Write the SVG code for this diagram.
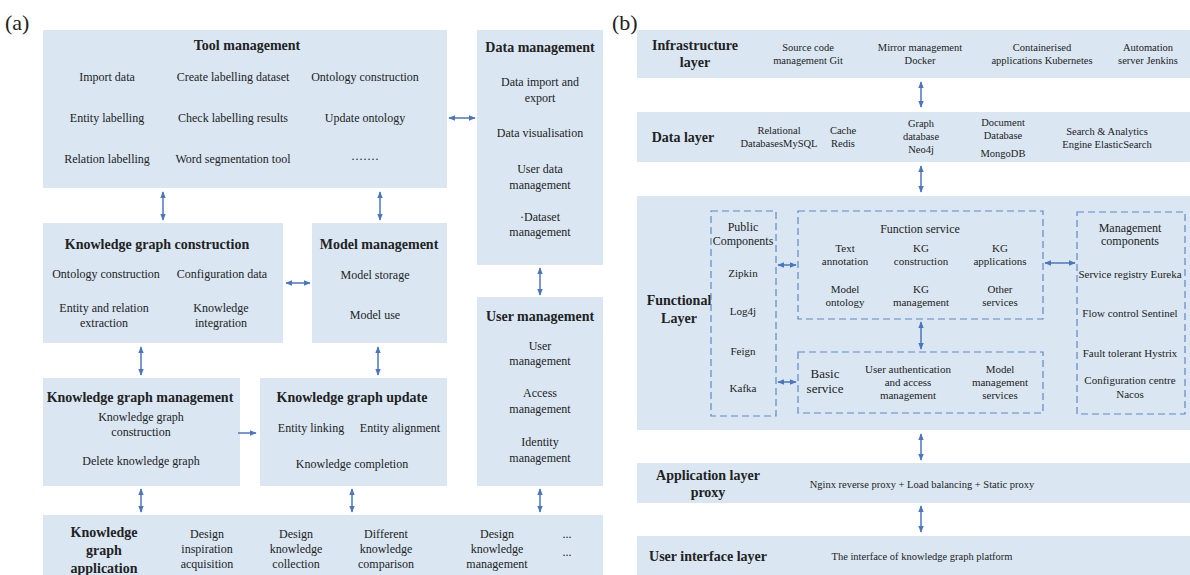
<svg xmlns="http://www.w3.org/2000/svg" width="1190" height="575" viewBox="0 0 1190 575">
<style>
.box{fill:#dae7f3;stroke:none}
.dash{fill:none;stroke:#5f88c8;stroke-width:1.2;stroke-dasharray:7,4}
text{font-family:"Liberation Serif","Times New Roman",serif;fill:#222;text-anchor:middle}
.t{font-size:14px;font-weight:bold}
.i{font-size:12px}
.s{font-size:10.5px}
.m{font-size:11px}
.rb{font-size:14px;font-weight:bold}
.lab{font-size:22px;text-anchor:start}
.ar{stroke:#4a76c0;stroke-width:1.5;fill:none}
</style>
<defs>
<marker id="ah" viewBox="0 0 10 10" refX="9" refY="5" markerWidth="7" markerHeight="7" orient="auto-start-reverse" markerUnits="userSpaceOnUse">
<path d="M0,1 L10,5 L0,9 z" fill="#4a76c0"/>
</marker>
</defs>
<rect width="1190" height="575" fill="#fff"/>
<text class="lab" x="5" y="30">(a)</text>
<text class="lab" x="612" y="30">(b)</text>

<g id="tool-management">
<rect class="box" x="43" y="30" width="404" height="158"/>
<text class="t" x="247" y="50">Tool management</text>
<text class="i" x="107" y="81">Import data</text>
<text class="i" x="233" y="81">Create labelling dataset</text>
<text class="i" x="365" y="81">Ontology construction</text>
<text class="i" x="107" y="122">Entity labelling</text>
<text class="i" x="233" y="122">Check labelling results</text>
<text class="i" x="365" y="122">Update ontology</text>
<text class="i" x="107" y="163">Relation labelling</text>
<text class="i" x="233" y="163">Word segmentation tool</text>
<text class="i" x="365" y="163">·······</text>
</g>

<g id="data-management">
<rect class="box" x="477" y="30" width="126" height="235"/>
<text class="t" x="540" y="52">Data management</text>
<text class="i" x="540" y="86">Data import and</text>
<text class="i" x="540" y="102">export</text>
<text class="i" x="540" y="137">Data visualisation</text>
<text class="i" x="540" y="173">User data</text>
<text class="i" x="540" y="189">management</text>
<text class="i" x="540" y="221">·Dataset</text>
<text class="i" x="540" y="236">management</text>
</g>

<g id="kg-construction">
<rect class="box" x="43" y="223" width="240" height="120"/>
<text class="t" x="157" y="249">Knowledge graph construction</text>
<text class="i" x="106" y="278">Ontology construction</text>
<text class="i" x="222" y="278">Configuration data</text>
<text class="i" x="104" y="312">Entity and relation</text>
<text class="i" x="104" y="327">extraction</text>
<text class="i" x="221" y="312">Knowledge</text>
<text class="i" x="221" y="327">integration</text>
</g>

<g id="model-management">
<rect class="box" x="312" y="223" width="135" height="120"/>
<text class="t" x="379" y="249">Model management</text>
<text class="i" x="375" y="279">Model storage</text>
<text class="i" x="375" y="319">Model use</text>
</g>

<g id="user-management">
<rect class="box" x="477" y="297" width="126" height="189"/>
<text class="t" x="540" y="321">User management</text>
<text class="i" x="540" y="350">User</text>
<text class="i" x="540" y="365">management</text>
<text class="i" x="540" y="397">Access</text>
<text class="i" x="540" y="413">management</text>
<text class="i" x="540" y="446">Identity</text>
<text class="i" x="540" y="462">management</text>
</g>

<g id="kg-management">
<rect class="box" x="43" y="378" width="197" height="108"/>
<text class="t" x="140" y="402">Knowledge graph management</text>
<text class="i" x="141" y="421">Knowledge graph</text>
<text class="i" x="141" y="436">construction</text>
<text class="i" x="141" y="465">Delete knowledge graph</text>
</g>

<g id="kg-update">
<rect class="box" x="260" y="378" width="187" height="108"/>
<text class="t" x="352" y="402">Knowledge graph update</text>
<text class="i" x="311" y="432">Entity linking</text>
<text class="i" x="400" y="432">Entity alignment</text>
<text class="i" x="352" y="468">Knowledge completion</text>
</g>

<g id="kg-application">
<rect class="box" x="43" y="515" width="560" height="60"/>
<text class="t" x="104" y="537">Knowledge</text>
<text class="t" x="104" y="555">graph</text>
<text class="t" x="104" y="573">application</text>
<text class="i" x="207" y="538">Design</text>
<text class="i" x="207" y="553">inspiration</text>
<text class="i" x="207" y="568">acquisition</text>
<text class="i" x="296" y="538">Design</text>
<text class="i" x="296" y="553">knowledge</text>
<text class="i" x="296" y="568">collection</text>
<text class="i" x="386" y="538">Different</text>
<text class="i" x="386" y="553">knowledge</text>
<text class="i" x="386" y="568">comparison</text>
<text class="i" x="497" y="538">Design</text>
<text class="i" x="497" y="553">knowledge</text>
<text class="i" x="497" y="568">management</text>
<text class="i" x="567" y="538">...</text>
<text class="i" x="567" y="556">...</text>
</g>

<g id="infrastructure-layer">
<rect class="box" x="637" y="30" width="553" height="48"/>
<text class="rb" x="695" y="50">Infrastructure</text>
<text class="rb" x="695" y="67">layer</text>
<text class="s" x="808" y="51">Source code</text>
<text class="s" x="808" y="64">management Git</text>
<text class="s" x="920" y="51">Mirror management</text>
<text class="s" x="920" y="64">Docker</text>
<text class="s" x="1042" y="51">Containerised</text>
<text class="s" x="1042" y="64">applications Kubernetes</text>
<text class="s" x="1148" y="51">Automation</text>
<text class="s" x="1148" y="64">server Jenkins</text>
</g>

<g id="data-layer">
<rect class="box" x="637" y="112" width="553" height="50"/>
<text class="rb" x="683" y="142">Data layer</text>
<text class="s" x="779" y="134">Relational</text>
<text class="s" x="779" y="147">DatabasesMySQL</text>
<text class="s" x="843" y="134">Cache</text>
<text class="s" x="843" y="147">Redis</text>
<text class="s" x="921" y="127">Graph</text>
<text class="s" x="921" y="140">database</text>
<text class="s" x="921" y="153">Neo4j</text>
<text class="s" x="1003" y="126">Document</text>
<text class="s" x="1003" y="139">Database</text>
<text class="s" x="1003" y="157">MongoDB</text>
<text class="s" x="1107" y="135">Search &amp; Analytics</text>
<text class="s" x="1107" y="148">Engine ElasticSearch</text>
</g>

<g id="functional-layer">
<rect class="box" x="637" y="196" width="553" height="234"/>
<text class="rb" x="679" y="305">Functional</text>
<text class="rb" x="679" y="323">Layer</text>
</g>

<g id="public-components">
<rect class="dash" x="711" y="211" width="65" height="205"/>
<text class="i" x="743" y="231">Public</text>
<text class="i" x="743" y="245">Components</text>
<text class="m" x="743" y="277">Zipkin</text>
<text class="m" x="743" y="315">Log4j</text>
<text class="m" x="743" y="355">Feign</text>
<text class="m" x="743" y="392">Kafka</text>
</g>

<g id="function-service">
<rect class="dash" x="798" y="211" width="245" height="108"/>
<text class="i" x="920" y="233">Function service</text>
<text class="m" x="845" y="252">Text</text>
<text class="m" x="845" y="265">annotation</text>
<text class="m" x="921" y="252">KG</text>
<text class="m" x="921" y="265">construction</text>
<text class="m" x="1000" y="252">KG</text>
<text class="m" x="1000" y="265">applications</text>
<text class="m" x="845" y="293">Model</text>
<text class="m" x="845" y="306">ontology</text>
<text class="m" x="921" y="293">KG</text>
<text class="m" x="921" y="306">management</text>
<text class="m" x="1000" y="293">Other</text>
<text class="m" x="1000" y="306">services</text>
</g>

<g id="basic-service">
<rect class="dash" x="798" y="352" width="245" height="61"/>
<text class="i" x="825" y="378" style="font-size:13px">Basic</text>
<text class="i" x="825" y="393" style="font-size:13px">service</text>
<text class="m" x="908" y="373">User authentication</text>
<text class="m" x="908" y="386">and access</text>
<text class="m" x="908" y="399">management</text>
<text class="m" x="1000" y="373">Model</text>
<text class="m" x="1000" y="386">management</text>
<text class="m" x="1000" y="399">services</text>
</g>

<g id="management-components">
<rect class="dash" x="1077" y="212" width="108" height="202"/>
<text class="i" x="1130" y="232">Management</text>
<text class="i" x="1130" y="245">components</text>
<text class="m" x="1130" y="278">Service registry Eureka</text>
<text class="m" x="1130" y="317">Flow control Sentinel</text>
<text class="m" x="1130" y="357">Fault tolerant  Hystrix</text>
<text class="m" x="1130" y="384">Configuration centre</text>
<text class="m" x="1130" y="398">Nacos</text>
</g>

<g id="application-layer-proxy">
<rect class="box" x="637" y="463" width="553" height="40"/>
<text class="rb" x="708" y="480">Application layer</text>
<text class="rb" x="708" y="497">proxy</text>
<text class="s" x="922" y="488">Nginx reverse proxy + Load balancing + Static proxy</text>
</g>

<g id="user-interface-layer">
<rect class="box" x="637" y="536" width="553" height="39"/>
<text class="rb" x="708" y="561">User interface layer</text>
<text class="s" x="922" y="560">The interface of knowledge graph platform</text>
</g>

<g id="connectors">
<line class="ar" x1="449" y1="118" x2="475" y2="118" marker-start="url(#ah)" marker-end="url(#ah)"/>
<line class="ar" x1="163" y1="192" x2="163" y2="220" marker-start="url(#ah)" marker-end="url(#ah)"/>
<line class="ar" x1="380" y1="192" x2="380" y2="220" marker-start="url(#ah)" marker-end="url(#ah)"/>
<line class="ar" x1="286" y1="283" x2="310" y2="283" marker-start="url(#ah)" marker-end="url(#ah)"/>
<line class="ar" x1="540" y1="268" x2="540" y2="295" marker-start="url(#ah)" marker-end="url(#ah)"/>
<line class="ar" x1="141" y1="347" x2="141" y2="375" marker-start="url(#ah)" marker-end="url(#ah)"/>
<line class="ar" x1="378" y1="347" x2="378" y2="375" marker-start="url(#ah)" marker-end="url(#ah)"/>
<line class="ar" x1="238" y1="433" x2="256" y2="433" marker-end="url(#ah)"/>
<line class="ar" x1="141" y1="489" x2="141" y2="512" marker-start="url(#ah)" marker-end="url(#ah)"/>
<line class="ar" x1="352" y1="489" x2="352" y2="512" marker-start="url(#ah)" marker-end="url(#ah)"/>
<line class="ar" x1="540" y1="489" x2="540" y2="512" marker-start="url(#ah)" marker-end="url(#ah)"/>
<line class="ar" x1="921" y1="82" x2="921" y2="107" marker-start="url(#ah)" marker-end="url(#ah)"/>
<line class="ar" x1="921" y1="166" x2="921" y2="192" marker-start="url(#ah)" marker-end="url(#ah)"/>
<line class="ar" x1="778" y1="265" x2="796" y2="265" marker-start="url(#ah)" marker-end="url(#ah)"/>
<line class="ar" x1="778" y1="382" x2="796" y2="382" marker-start="url(#ah)" marker-end="url(#ah)"/>
<line class="ar" x1="921" y1="322" x2="921" y2="349" marker-start="url(#ah)" marker-end="url(#ah)"/>
<line class="ar" x1="1045" y1="263" x2="1075" y2="263" marker-start="url(#ah)" marker-end="url(#ah)"/>
<line class="ar" x1="921" y1="434" x2="921" y2="460" marker-start="url(#ah)" marker-end="url(#ah)"/>
<line class="ar" x1="921" y1="506" x2="921" y2="532" marker-start="url(#ah)" marker-end="url(#ah)"/>
</g>
</svg>
